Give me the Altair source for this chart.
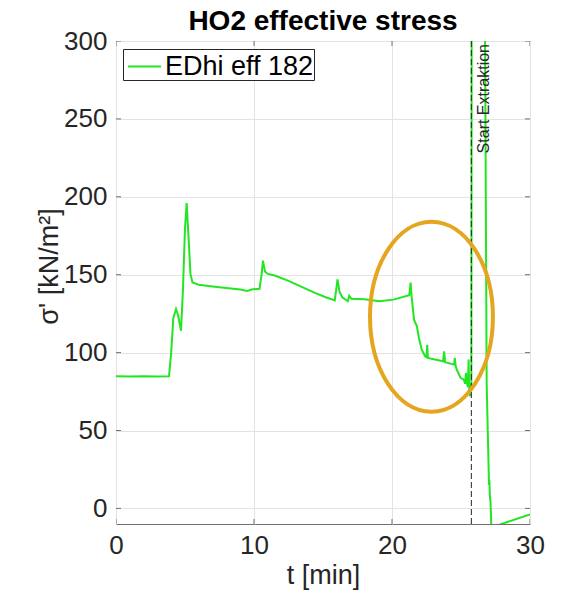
import altair as alt
import pandas as pd

# ---------------- data ----------------
series_name = "EDhi eff 182"
t_min = [0.0, 1.0, 2.0, 3.0, 3.84, 4.0, 4.15, 4.35, 4.5, 4.71, 4.85, 5.0, 5.12,
         5.25, 5.4, 5.55, 6.0, 7.0, 8.0, 9.0, 9.5, 9.8, 10.4, 10.55, 10.65, 10.8,
         11.0, 11.5, 12.5, 13.5, 14.5, 15.2, 15.85, 15.95, 16.05, 16.2, 16.4,
         16.8, 16.9, 17.05, 18.0, 19.1, 20.1, 21.25, 21.35, 21.42, 21.6, 21.8,
         21.96, 22.15, 22.4, 22.5, 22.55, 22.6, 23.7, 23.78, 23.85, 24.5, 24.55,
         24.62, 24.7, 24.97, 25.2, 25.3, 25.36, 25.42, 25.5, 25.55, 25.6, 25.65,
         25.7, 25.75, 25.8, 26.7, 26.74, 26.86, 27.03, 27.06, 27.09, 27.14,
         27.2, 27.3, 27.6, 30.0]
stress = [84.8, 84.6, 84.8, 84.7, 84.8, 100.0, 122.0, 128.0, 124.0, 114.0,
          140.0, 180.0, 196.0, 175.0, 150.0, 145.0, 143.5, 142.5, 141.5, 140.5,
          139.5, 140.5, 141.0, 150.0, 159.0, 152.0, 150.5, 149.5, 146.0, 142.0,
          138.0, 135.5, 133.5, 140.0, 147.0, 139.0, 135.5, 133.0, 136.5, 134.5,
          134.3, 132.9, 134.0, 136.8, 145.0, 136.0, 121.0, 117.0, 109.0, 102.0,
          97.6, 97.0, 105.0, 96.6, 94.4, 100.8, 93.8, 92.3, 96.6, 91.0, 89.0,
          83.8, 82.7, 80.0, 87.0, 80.6, 78.0, 95.5, 75.0, 72.0, 78.0, 80.0,
          600.0, 600.0, 310.0, 80.0, 15.0, 18.0, 8.0, 4.0, -12.0, -25.0, -11.0,
          -3.8]

extraction_t = [25.75]
extraction_label = ["Start Extraktion"]

ellipse_t = [22.86]
ellipse_s = [123.0]

x_ticks = [0, 10, 20, 30]
y_ticks = [0, 50, 100, 150, 200, 250, 300]
x_domain = [0, 30]
y_domain = [-10, 300]

# ---------------- styling ----------------
FONT = "Liberation Sans"
GREEN = "#22e622"
ORANGE = "#e5a520"
AXIS_COL = "#707070"
TEXT_COL = "#262626"

k = 0.5523
a = 0.647
ka = k * a
ellipse_path = (
    f"M 0 -1 C {ka:.4f} -1 {a} -{k} {a} 0 "
    f"C {a} {k} {ka:.4f} 1 0 1 "
    f"C -{ka:.4f} 1 -{a} {k} -{a} 0 "
    f"C -{a} -{k} -{ka:.4f} -1 0 -1 Z"
)

line_df = pd.DataFrame({"t": t_min, "s": stress, "series": series_name,
                        "i": list(range(len(t_min)))})
ext_df = pd.DataFrame({"t": extraction_t, "label": extraction_label,
                       "s": [y_domain[1]]})
ell_df = pd.DataFrame({"t": ellipse_t, "s": ellipse_s})
xt_df = pd.DataFrame({"t": x_ticks * 2,
                      "s": [y_domain[0]] * len(x_ticks) + [y_domain[1]] * len(x_ticks)})
yt_df = pd.DataFrame({"t": [x_domain[0]] * len(y_ticks) + [x_domain[1]] * len(y_ticks),
                      "s": y_ticks * 2})

xs = alt.Scale(domain=x_domain, nice=False, zero=False)
ys = alt.Scale(domain=y_domain, nice=False, zero=False)

x_axis = alt.Axis(values=x_ticks, title="t [min]", labelPadding=8,
                  titlePadding=4, grid=True, labelFlush=False)
y_axis = alt.Axis(values=y_ticks, title="σ' [kN/m²]", labelPadding=9,
                  titlePadding=0, grid=True, titleY=225, labelFlush=False)

X = alt.X("t:Q", scale=xs, axis=x_axis)
Y = alt.Y("s:Q", scale=ys, axis=y_axis)

line = alt.Chart(line_df).mark_line(clip=True, strokeWidth=2).encode(
    x=X,
    y=Y,
    order=alt.Order("i:Q"),
    color=alt.Color(
        "series:N",
        scale=alt.Scale(domain=[series_name], range=[GREEN]),
        legend=alt.Legend(
            title=None, orient="none", legendX=7, legendY=8,
            symbolType="stroke", symbolSize=1089, symbolStrokeWidth=2,
            symbolOffset=4,
            labelFontSize=27, labelFont=FONT, labelColor="black",
            strokeColor="#262626", fillColor="white", padding=0,
            labelOffset=3, cornerRadius=0, labelLimit=400,
        ),
    ),
)

xticks = alt.Chart(xt_df).mark_tick(orient="vertical", size=10, thickness=1,
                                    clip=True, color=AXIS_COL, opacity=1).encode(
    x=X, y=Y,
)
yticks = alt.Chart(yt_df).mark_tick(orient="horizontal", size=10, thickness=1,
                                    clip=True, color=AXIS_COL, opacity=1).encode(
    x=X, y=Y,
)

rule = alt.Chart(ext_df).mark_rule(color=TEXT_COL, strokeWidth=1,
                                   strokeDash=[6, 3]).encode(
    x=X,
)

label = alt.Chart(ext_df).mark_text(angle=270, align="right", baseline="top",
                                    dx=-3, dy=5, fontSize=16, font=FONT,
                                    color=TEXT_COL).encode(
    x=X, y=Y,
    text="label:N",
)

ellipse = alt.Chart(ell_df).mark_point(shape=ellipse_path, size=36100,
                                       filled=False, strokeWidth=4,
                                       color=ORANGE, opacity=1).encode(
    x=X, y=Y,
)

chart = alt.layer(line, xticks, yticks, rule, label, ellipse).properties(
    width=414,
    height=483,
    title=alt.Title("HO2 effective stress", fontSize=28, fontWeight="bold",
                    font=FONT, color="black", anchor="middle", offset=-8),
    autosize=alt.AutoSizeParams(type="none"),
    padding={"left": 108, "top": 33, "right": 25, "bottom": 70},
).configure_view(
    stroke=AXIS_COL, strokeWidth=1
).configure_axis(
    labelFont=FONT, titleFont=FONT, labelFontSize=26, titleFontSize=27,
    labelColor=TEXT_COL, titleColor=TEXT_COL, titleFontWeight="normal",
    gridColor="#e3e3e3", gridWidth=1, domain=False, ticks=False,
)

chart.save("out.html", embed_options={"renderer": "svg", "actions": False})
